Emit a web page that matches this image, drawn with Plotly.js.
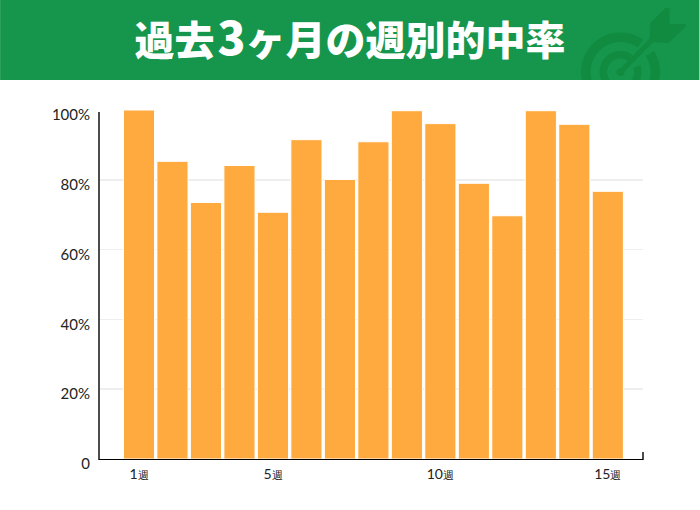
<!DOCTYPE html>
<html><head><meta charset="utf-8">
<script src="https://cdn.plot.ly/plotly-3.0.1.min.js"></script>
<style>html,body{margin:0;padding:0;background:#fff}</style></head>
<body><div id="chart" style="width:700px;height:510px"></div>
<script>
const weeks = [1,2,3,4,5,6,7,8,9,10,11,12,13,14,15];
const hitRates = [100,85.3,73.5,84.1,70.7,91.5,80.1,90.9,99.8,96.1,79,69.7,99.8,95.9,76.7];
const yTickVals = [0,20,40,60,80,100];
const yTickText = ['0','20%','40%','60%','80%','100%'];
const xTickVals = [1,5,10,15];
const xTickNums = ['1','5','10','15'];
const xUnit = '週';
const titleText = '過去<span style="font-size:46px">\u200A3</span>ヶ月の週別的中率';

const L=99,R=643.5,T=110,B=459;
const px=x=>(x-L)/(R-L), py=y=>1-(y-T)/(B-T);
const poly=pts=>'M'+pts.map(p=>px(p[0]).toFixed(5)+','+py(p[1]).toFixed(5)).join('L')+'Z';
const d=Math.PI/180, G='#108b3f', cx=621, cy=72;
function ring(ro,ri,gapA,gapB){
  const lo=y=>Math.asin(Math.min(1,8/y));
  const left=[], right=[], n=40;
  const a0=Math.PI-lo(ro), a0i=Math.PI-lo(ri);
  const a1=2*Math.PI+gapA*d;
  for(let i=0;i<=n;i++){const a=a0+(a1-a0)*i/n;left.push([cx+ro*Math.cos(a),cy+ro*Math.sin(a)]);}
  for(let i=n;i>=0;i--){const a=a0i+(a1-a0i)*i/n;left.push([cx+ri*Math.cos(a),cy+ri*Math.sin(a)]);}
  const b0=gapB*d,b1=lo(ro),b1i=lo(ri);
  for(let i=0;i<=n;i++){const a=b0+(b1-b0)*i/n;right.push([cx+ro*Math.cos(a),cy+ro*Math.sin(a)]);}
  for(let i=n;i>=0;i--){const a=b0+(b1i-b0)*i/n;right.push([cx+ri*Math.cos(a),cy+ri*Math.sin(a)]);}
  return [left,right];
}
const iconPolys=[...ring(39.5,30,-55,-32),...ring(21,13.5,-55,-18),
  [[651,23],[666,8],[670,8],[670,24],[686,24],[686,27],[669,43],[650,42]]];
const noLine={width:0};
const shapes=[
  {type:'rect',xref:'paper',yref:'paper',x0:px(0),x1:px(700),y0:py(80),y1:py(0),fillcolor:'#16964c',line:noLine,layer:'below'},
  ...iconPolys.map(p=>({type:'path',xref:'paper',yref:'paper',path:poly(p),fillcolor:G,line:noLine,layer:'below'})),
  {type:'circle',xref:'paper',yref:'paper',x0:px(617),x1:px(625),y0:py(76),y1:py(68),fillcolor:G,line:noLine,layer:'below'},
  {type:'line',xref:'paper',yref:'paper',x0:px(621),y0:py(72),x1:px(656),y1:py(36),line:{color:G,width:5},layer:'below'},
  {type:'line',xref:'paper',yref:'paper',x0:px(99),x1:px(99),y0:py(460),y1:py(112),line:{color:'#000',width:1.4}},
  {type:'line',xref:'paper',yref:'paper',x0:px(643.5),x1:px(643.5),y0:py(460),y1:py(452),line:{color:'#000',width:1.4}}
];
const trace={type:'bar',x:weeks,y:hitRates,marker:{color:'#ffaa3e',line:{color:'#fff',width:1}},hoverinfo:'x+y'};
const layout={
  width:700,height:510,autosize:false,showlegend:false,
  paper_bgcolor:'#fff',plot_bgcolor:'#fff',
  margin:{l:L,r:700-R,t:T,b:510-B,pad:0},
  bargap:0.07,
  font:{family:'Lato, sans-serif',color:'#222',size:14},
  title:{text:titleText,xref:'container',yref:'container',x:0.5,xanchor:'center',y:1-41/510,yanchor:'middle',
    font:{family:'"Noto Sans CJK JP", sans-serif',size:40,color:'#fff',weight:900}},
  xaxis:{range:[1-40/33.5,15+(643.5-608.3)/33.5],tickmode:'array',tickvals:xTickVals,
    ticktext:xTickNums.map(n=>n+'<span style="font-size:11px">'+xUnit+'</span>'),
    ticks:'',showgrid:false,zeroline:false,showline:true,linecolor:'#000',linewidth:1.4,
    tickfont:{size:14,color:'#222'},ticklabelstandoff:2},
  yaxis:{range:[0,100],tickmode:'array',tickvals:yTickVals,ticktext:yTickText,ticks:'',
    showgrid:true,gridcolor:'#eeeeee',gridwidth:1.5,zeroline:false,showline:false,
    tickfont:{size:15,color:'#222'},ticklabelshift:5,ticklabelstandoff:8},
  shapes:shapes
};
Plotly.newPlot('chart',[trace],layout,{displayModeBar:false,staticPlot:true});
</script></body></html>
